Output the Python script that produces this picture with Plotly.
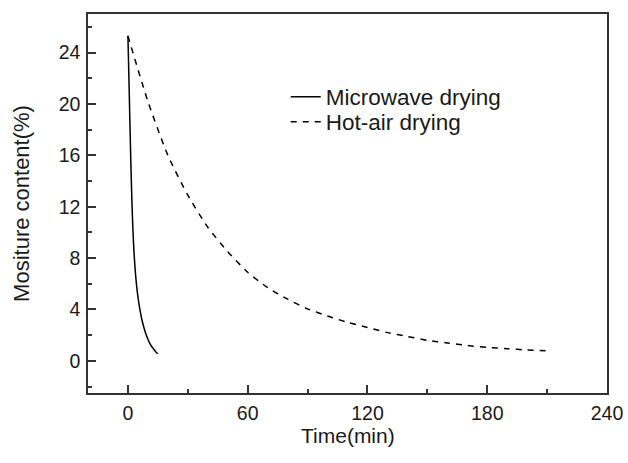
import plotly.graph_objects as go

# Microwave drying
mw_time = [0, 0.5, 1, 1.5, 2, 2.5, 3, 4, 5, 6, 7, 8, 9, 10, 11, 12, 13, 14, 15]
mw_moist = [25.3, 22.0, 18.5, 15.2, 12.4, 10.2, 8.6, 6.4, 5.0, 4.0, 3.2, 2.6, 2.1, 1.7, 1.35, 1.1, 0.9, 0.7, 0.55]

# Hot-air drying
ha_time = [0, 10, 20, 30, 40, 50, 60, 70, 80, 90, 100, 110, 120, 130, 140, 150, 160, 170, 180, 190, 200, 210]
ha_moist = [25.3, 20.2, 16.0, 12.9, 10.4, 8.5, 6.9, 5.7, 4.8, 4.05, 3.5, 3.0, 2.6, 2.2, 1.9, 1.6, 1.4, 1.2, 1.05, 0.95, 0.85, 0.78]

x_ticks = [0, 60, 120, 180, 240]
y_ticks = [0, 4, 8, 12, 16, 20, 24]

FONT = "Liberation Sans, Arial, sans-serif"
AX = "#333333"
TXT = "#1a1a1a"

fig = go.Figure()
fig.add_trace(go.Scatter(x=mw_time, y=mw_moist, mode="lines", name="Microwave drying",
                         legend="legend",
                         line=dict(color="black", width=1.5, shape="spline", smoothing=0.6)))
fig.add_trace(go.Scatter(x=ha_time, y=ha_moist, mode="lines", name="Hot-air drying",
                         legend="legend2",
                         line=dict(color="black", width=1.5, dash="6px,6px", shape="spline", smoothing=0.6)))

axis_common = dict(showline=True, linecolor=AX, linewidth=1.5, mirror=True,
                   ticks="inside", ticklen=8, tickwidth=1.5, tickcolor=AX,
                   showgrid=False, zeroline=False, automargin=False,
                   tickfont=dict(family=FONT, size=19.5, color=TXT))

leg_common = dict(x=0.381, xanchor="left", yanchor="middle",
                  bgcolor="rgba(0,0,0,0)", borderwidth=0,
                  font=dict(family=FONT, size=22.5, color=TXT))

fig.update_layout(
    width=628, height=463,
    margin=dict(l=88, r=21, t=14, b=70),
    paper_bgcolor="white", plot_bgcolor="white",
    showlegend=True,
    legend=dict(y=0.781, **leg_common),
    legend2=dict(y=0.715, **leg_common),
    xaxis=dict(range=[-20, 240], tickvals=x_ticks, ticktext=[str(v) for v in x_ticks],
               minor=dict(dtick=30, tick0=0, ticks="inside", ticklen=4, tickwidth=1.5, tickcolor=AX),
               ticklabelstandoff=2,
               **axis_common),
    yaxis=dict(range=[-2.5, 27], tickvals=y_ticks, ticktext=[str(v) for v in y_ticks],
               minor=dict(dtick=2, tick0=0, ticks="inside", ticklen=4, tickwidth=1.5, tickcolor=AX),
               title=dict(text="Mositure content(%)", font=dict(family=FONT, size=22, color=TXT), standoff=23),
               ticklabelstandoff=2,
               **axis_common),
    annotations=[dict(text="Time(min)", xref="paper", yref="paper", x=0.5, y=-0.112,
                      xanchor="center", yanchor="middle", showarrow=False,
                      font=dict(family=FONT, size=21, color=TXT))],
)

fig.write_html("out.html", config={"displayModeBar": False},
               post_script="document.body.style.margin='0';document.body.style.overflow='hidden';")
